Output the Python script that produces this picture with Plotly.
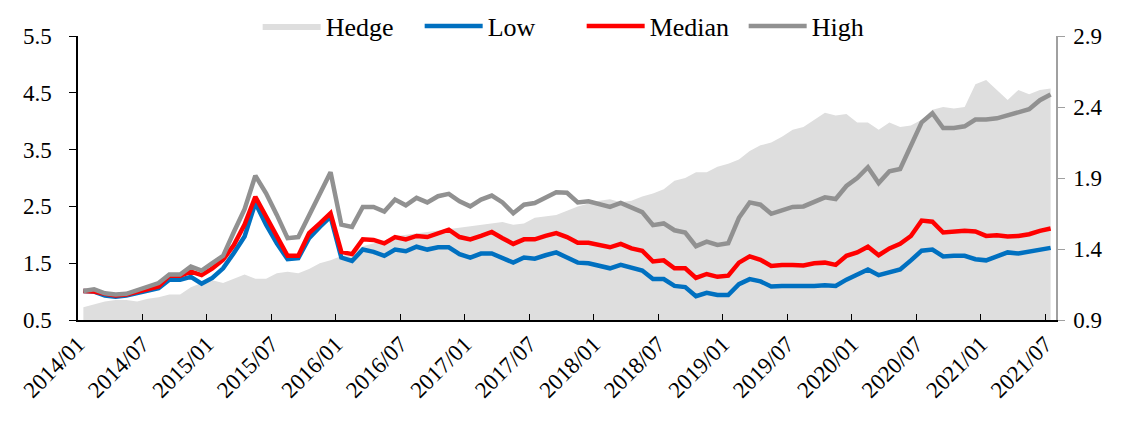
import numpy as np
import pandas as pd
import plotly.graph_objects as go

months = pd.date_range("2014-01-01", periods=91, freq="MS")
month_labels = [d.strftime("%Y/%m") for d in months]

low = [1.01, 1.00, 0.93, 0.91, 0.93, 0.98, 1.03, 1.06, 1.21, 1.21, 1.26, 1.14, 1.24, 1.41, 1.68, 1.97,
       2.56, 2.18, 1.85, 1.57, 1.59, 1.94, 2.14, 2.32, 1.60, 1.54, 1.74, 1.70, 1.63, 1.74, 1.71,
       1.79, 1.74, 1.78, 1.78, 1.66, 1.60, 1.67, 1.67, 1.60, 1.51, 1.60, 1.58, 1.64, 1.69, 1.60,
       1.51, 1.50, 1.45, 1.41, 1.47, 1.43, 1.37, 1.22, 1.22, 1.10, 1.08, 0.92, 0.98, 0.94, 0.94,
       1.13, 1.22, 1.18, 1.09, 1.10, 1.10, 1.09, 1.10, 1.11, 1.10, 1.21, 1.31, 1.39, 1.29, 1.35,
       1.39, 1.55, 1.72, 1.74, 1.62, 1.63, 1.63, 1.57, 1.55, 1.62, 1.69, 1.67, 1.71, 1.74, 1.77]

median = [1.01, 1.00, 0.96, 0.93, 0.95, 0.99, 1.04, 1.09, 1.28, 1.28, 1.35, 1.29, 1.41, 1.56, 1.82, 2.18,
          2.67, 2.32, 1.96, 1.63, 1.63, 2.03, 2.20, 2.38, 1.70, 1.66, 1.92, 1.91, 1.85, 1.96, 1.92,
          1.98, 1.96, 2.03, 2.09, 1.96, 1.92, 1.98, 2.05, 1.94, 1.84, 1.92, 1.92, 1.98, 2.03, 1.96,
          1.86, 1.86, 1.82, 1.78, 1.84, 1.76, 1.72, 1.53, 1.55, 1.41, 1.41, 1.24, 1.31, 1.26, 1.28,
          1.51, 1.62, 1.56, 1.45, 1.47, 1.47, 1.46, 1.50, 1.51, 1.47, 1.63, 1.69, 1.79, 1.64, 1.76,
          1.84, 1.98, 2.25, 2.23, 2.04, 2.05, 2.07, 2.06, 1.98, 1.99, 1.97, 1.98, 2.01, 2.07, 2.11]

high = [1.01, 1.04, 0.97, 0.95, 0.96, 1.02, 1.07, 1.15, 1.30, 1.30, 1.44, 1.37, 1.50, 1.63, 2.05, 2.45,
        3.04, 2.73, 2.35, 1.94, 1.96, 2.35, 2.73, 3.10, 2.18, 2.14, 2.49, 2.49, 2.41, 2.62, 2.52,
        2.65, 2.57, 2.68, 2.72, 2.59, 2.50, 2.62, 2.69, 2.57, 2.38, 2.53, 2.56, 2.65, 2.75, 2.74,
        2.57, 2.59, 2.55, 2.49, 2.56, 2.47, 2.40, 2.17, 2.20, 2.08, 2.04, 1.80, 1.88, 1.82, 1.85,
        2.30, 2.57, 2.53, 2.37, 2.43, 2.49, 2.50, 2.59, 2.66, 2.63, 2.86, 3.00, 3.19, 2.91, 3.12,
        3.16, 3.56, 3.98, 4.14, 3.88, 3.88, 3.91, 4.03, 4.03, 4.05, 4.11, 4.17, 4.21, 4.37, 4.47]

hedge = [0.99, 1.01, 1.03, 1.04, 1.04, 1.03, 1.05, 1.06, 1.08, 1.08, 1.13, 1.16, 1.18, 1.16, 1.19, 1.22,
         1.19, 1.19, 1.23, 1.24, 1.23, 1.26, 1.30, 1.32, 1.35, 1.37, 1.42, 1.44, 1.46, 1.49, 1.50,
         1.51, 1.52, 1.53, 1.54, 1.55, 1.56, 1.57, 1.58, 1.59, 1.57, 1.58, 1.62, 1.63, 1.64, 1.67,
         1.70, 1.72, 1.74, 1.75, 1.73, 1.74, 1.77, 1.79, 1.82, 1.88, 1.90, 1.94, 1.94, 1.98, 2.00,
         2.03, 2.09, 2.13, 2.15, 2.19, 2.24, 2.26, 2.31, 2.36, 2.34, 2.35, 2.29, 2.29, 2.24, 2.29,
         2.26, 2.27, 2.31, 2.38, 2.40, 2.39, 2.40, 2.56, 2.59, 2.52, 2.45, 2.52, 2.49, 2.52, 2.53]

left_ticks = [0.5, 1.5, 2.5, 3.5, 4.5, 5.5]
right_ticks = [0.9, 1.4, 1.9, 2.4, 2.9]

n = len(month_labels)
x = np.arange(n) + 0.5
tick_idx = [i for i, d in enumerate(months) if d.month in (1, 7)]
tick_text = [month_labels[i] for i in tick_idx]

FONT = "Liberation Serif"

fig = go.Figure()
fig.add_trace(go.Scatter(x=x, y=hedge, name="Hedge", mode="lines", fill="tozeroy",
                         fillcolor="#dedede", line=dict(width=0, color="#dedede"),
                         yaxis="y"))
fig.add_trace(go.Scatter(x=x, y=low, name="Low", mode="lines",
                         line=dict(color="#0070c0", width=4.5), yaxis="y2"))
fig.add_trace(go.Scatter(x=x, y=median, name="Median", mode="lines",
                         line=dict(color="#ff0000", width=4.5), yaxis="y2"))
fig.add_trace(go.Scatter(x=x, y=high, name="High", mode="lines",
                         line=dict(color="#919191", width=4.5), yaxis="y2"))

fig.update_layout(
    width=1122, height=429,
    margin=dict(l=78, r=66, t=36, b=109, autoexpand=False),
    paper_bgcolor="white", plot_bgcolor="white",
    font=dict(family=FONT, size=23, color="black"),
    showlegend=True,
    legend=dict(orientation="h", x=0.515, xanchor="center",
                yref="container", y=1 - 26 / 429, yanchor="middle",
                font=dict(family=FONT, size=26), itemwidth=58,
                entrywidth=89, entrywidthmode="pixels",
                bgcolor="rgba(0,0,0,0)"),
    xaxis=dict(range=[0, n], tickmode="array", tickvals=tick_idx, ticktext=tick_text,
               tickangle=-45, ticks="inside", ticklen=6, tickcolor="black",
               showline=True, linecolor="black", linewidth=1.5, showgrid=False,
               zeroline=False, automargin=False, tickfont=dict(family=FONT, size=23)),
    yaxis=dict(side="right", range=[0.9, 2.9], tickmode="array", tickvals=right_ticks,
               ticktext=[f"{v:.1f}" for v in right_ticks],
               ticks="outside", ticklen=7, tickcolor="#a0a0a0",
               showline=True, linecolor="#a0a0a0", linewidth=1.5, showgrid=False,
               zeroline=False, automargin=False, ticklabelstandoff=4,
               tickfont=dict(family=FONT, size=23)),
    yaxis2=dict(side="left", overlaying="y", range=[0.5, 5.5], tickmode="array",
                tickvals=left_ticks, ticktext=[f"{v:.1f}" for v in left_ticks],
                ticks="outside", ticklen=7, tickcolor="black",
                showline=True, linecolor="black", linewidth=1.5, showgrid=False,
                zeroline=False, automargin=False, ticklabelstandoff=13,
                tickfont=dict(family=FONT, size=23)),
)

fig.write_html("out.html", config={"displayModeBar": False},
               post_script="document.body.style.margin='0';")
